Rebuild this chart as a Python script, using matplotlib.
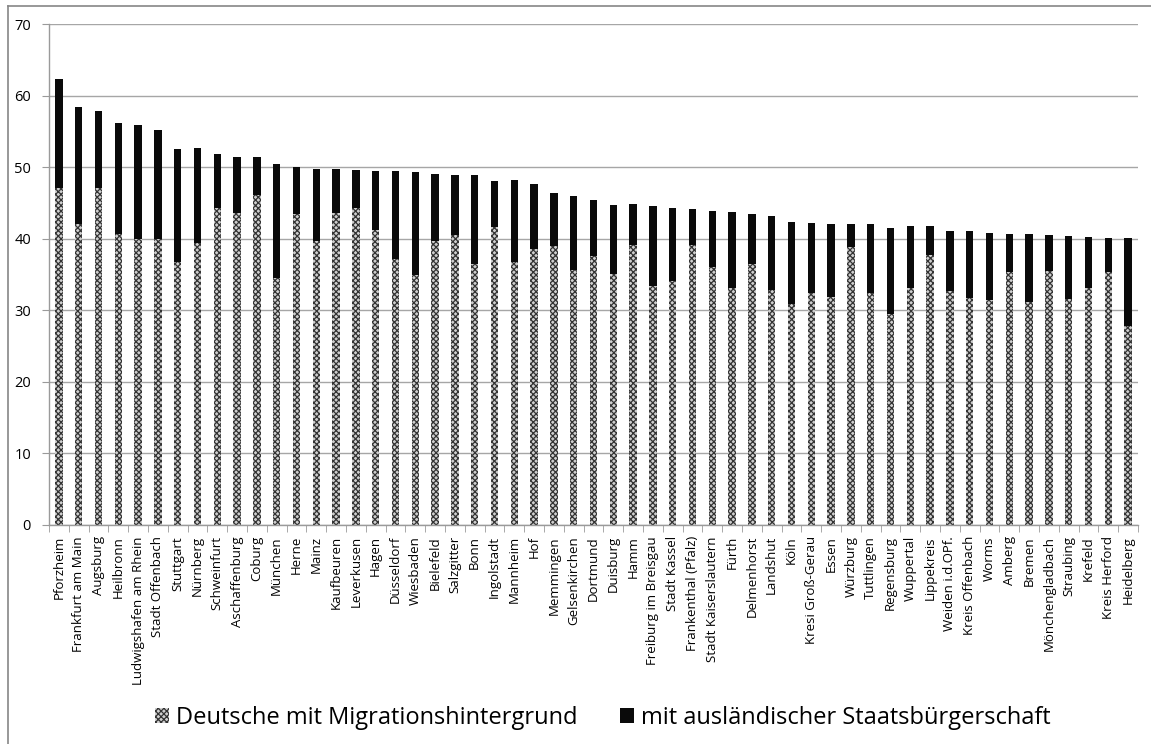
import numpy as np
import matplotlib
matplotlib.use("Agg")
import matplotlib.pyplot as plt
from matplotlib.patches import Patch
from matplotlib.lines import Line2D

plt.rcParams['font.family'] = ['Open Sans', 'DejaVu Sans']
plt.rcParams['hatch.linewidth'] = 0.9

staedte = ["Pforzheim", "Frankfurt am Main", "Augsburg", "Heilbronn", "Ludwigshafen am Rhein",
           "Stadt Offenbach", "Stuttgart", "Nürnberg", "Schweinfurt", "Aschaffenburg", "Coburg",
           "München", "Herne", "Mainz", "Kaufbeuren", "Leverkusen", "Hagen", "Düsseldorf",
           "Wiesbaden", "Bielefeld", "Salzgitter", "Bonn", "Ingolstadt", "Mannheim", "Hof",
           "Memmingen", "Gelsenkirchen", "Dortmund", "Duisburg", "Hamm", "Freiburg im Breisgau",
           "Stadt Kassel", "Frankenthal (Pfalz)", "Stadt Kaiserslautern", "Fürth", "Delmenhorst",
           "Landshut", "Köln", "Kresi Groß-Gerau", "Essen", "Würzburg", "Tuttlingen", "Regensburg",
           "Wuppertal", "Lippekreis", "Weiden i.d.OPf.", "Kreis Offenbach", "Worms", "Amberg",
           "Bremen", "Mönchengladbach", "Straubing", "Krefeld", "Kreis Herford", "Heidelberg"]

# Deutsche mit Migrationshintergrund (%)
deutsche = [47.1, 42.0, 47.1, 40.7, 40.0, 40.0, 36.7, 39.4, 44.3, 43.6, 46.1,
            34.5, 43.4, 39.7, 43.6, 44.3, 41.2, 37.2, 35.0, 39.7, 40.5, 36.5,
            41.6, 36.7, 38.5, 39.0, 35.6, 37.6, 35.1, 39.1, 33.4, 34.1, 39.1,
            36.0, 33.1, 36.4, 32.8, 30.9, 32.4, 31.8, 38.8, 32.4, 29.5, 33.1,
            37.7, 32.7, 31.7, 31.5, 35.3, 31.2, 35.5, 31.6, 33.1, 35.4, 27.8]

# mit ausländischer Staatsbürgerschaft (%)
auslaender = [15.2, 16.4, 10.8, 15.4, 15.9, 15.2, 15.9, 13.3, 7.5, 7.8, 5.3,
              16.0, 6.6, 10.0, 6.1, 5.3, 8.2, 12.2, 14.3, 9.3, 8.4, 12.4,
              6.5, 11.5, 9.2, 7.4, 10.4, 7.8, 9.6, 5.7, 11.2, 10.2, 5.0,
              7.9, 10.7, 7.0, 10.4, 11.5, 9.8, 10.3, 3.2, 9.7, 12.0, 8.7,
              4.1, 8.4, 9.4, 9.3, 5.4, 9.4, 5.0, 8.8, 7.1, 4.7, 12.3]

fig = plt.figure(figsize=(11.51, 7.44), dpi=100)
ax = fig.add_axes([49 / 1151, 1 - 525 / 744, (1138 - 49) / 1151, (525 - 24) / 744])

x = np.arange(len(staedte))
w = 0.38
ax.bar(x, deutsche, w, color='#cfcfcf', hatch='xxxxxx', edgecolor='#333333', linewidth=0, zorder=2)
ax.bar(x, auslaender, w, bottom=deutsche, color='#0a0a0a', linewidth=0, zorder=2)

ax.set_xlim(-0.5, len(staedte) - 0.5)
ax.set_ylim(0, 70)
ax.set_yticks(range(0, 71, 10))
ax.grid(axis='y', color='#a6a6a6', linewidth=1.0, zorder=0)
for s in ['top', 'right']:
    ax.spines[s].set_visible(False)
for s in ['left', 'bottom']:
    ax.spines[s].set_color('#9a9a9a')
    ax.spines[s].set_linewidth(1.0)

ax.set_xticks(x)
ax.set_xticklabels(staedte, rotation=90, fontsize=9.5)
ax.set_xticks(np.arange(-0.5, len(staedte), 1), minor=True)
ax.tick_params(axis='x', which='major', length=0, pad=8)
ax.tick_params(axis='x', which='minor', length=5, color='#9a9a9a')
ax.tick_params(axis='y', length=5, color='#9a9a9a', labelsize=10.5, pad=8)

# outer chart border (cut off at right and bottom)
fig.add_artist(Line2D([8 / 1151, 8 / 1151], [0, 1 - 6 / 744], transform=fig.transFigure,
                      color='#868686', linewidth=1.2))
fig.add_artist(Line2D([8 / 1151, 1], [1 - 6 / 744, 1 - 6 / 744], transform=fig.transFigure,
                      color='#868686', linewidth=1.2))

handles = [Patch(facecolor='#cfcfcf', hatch='xxxxxx', edgecolor='#333333', linewidth=0),
           Patch(facecolor='#0a0a0a', linewidth=0)]
fig.legend(handles, ["Deutsche mit Migrationshintergrund", "mit ausländischer Staatsbürgerschaft"],
           loc='center', bbox_to_anchor=(603 / 1151, 1 - 718 / 744), ncol=2, frameon=False,
           fontsize=17, handlelength=0.6, handleheight=0.6, handletextpad=0.3, columnspacing=1.8)

fig.savefig("out.png", dpi=100)
